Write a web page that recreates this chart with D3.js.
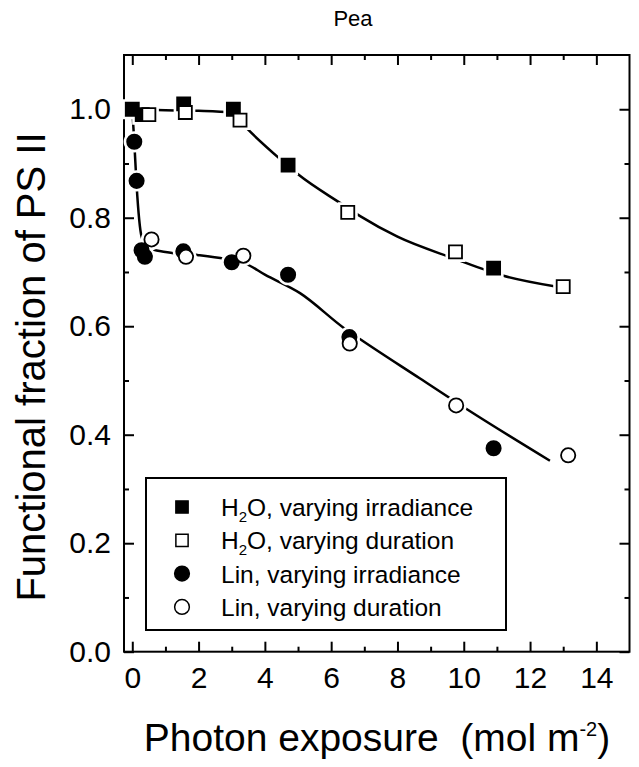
<!DOCTYPE html>
<html>
<head>
<meta charset="utf-8">
<script src="https://cdn.jsdelivr.net/npm/d3@7"></script>
<style>
  body { margin: 0; background: #fff; }
  svg { font-family: "Liberation Sans", Arial, sans-serif; }
</style>
</head>
<body>
<svg id="chart" width="639" height="767"></svg>
<script>
// data: [photon exposure, functional fraction]
var h2oIrradiance = [[0, 1.0], [0.3, 0.99], [1.55, 1.01], [3.05, 1.0], [4.7, 0.897], [10.9, 0.707]];
var h2oDuration = [[0.5, 0.99], [1.6, 0.994], [3.25, 0.98], [6.5, 0.81], [9.75, 0.737], [13.0, 0.673]];
var linIrradiance = [[0.06, 0.94], [0.13, 0.868], [0.28, 0.74], [0.38, 0.728], [1.54, 0.738], [3.0, 0.718], [4.7, 0.695], [6.55, 0.58], [10.9, 0.375]];
var linDuration = [[0.58, 0.76], [1.62, 0.728], [3.35, 0.73], [6.56, 0.568], [9.77, 0.454], [13.15, 0.362]];

// fitted curves as drawn in the figure
var h2oFit = [[0, 1.0], [1, 0.998], [2, 0.997], [3, 0.994], [3.45, 0.965], [4.5, 0.906], [5, 0.88], [6.3, 0.826], [6.9, 0.802], [8, 0.765], [9.7, 0.725], [11.2, 0.693], [12.8, 0.673], [13, 0.671]];
var linFit = [[0, 1.0], [0.06, 0.94], [0.13, 0.86], [0.28, 0.765], [0.45, 0.745], [1.0, 0.737], [2.0, 0.731], [2.8, 0.724], [3.4, 0.716], [4.0, 0.695], [5.06, 0.661], [6.4, 0.596], [6.9, 0.575], [8.67, 0.504], [10.12, 0.446], [12.6, 0.352]];

var xMajor = [0, 2, 4, 6, 8, 10, 12, 14];
var xMinor = [1, 3, 5, 7, 9, 11, 13];
var yMajor = [0, 0.2, 0.4, 0.6, 0.8, 1.0];
var yMinor = [0.1, 0.3, 0.5, 0.7, 0.9];

var legendItems = ["varying irradiance", "varying duration", "varying irradiance", "varying duration"];

(function() {
var svg = d3.select("#chart");
var pL = 124, pR = 629.5, pT = 55, pB = 651.7;

var x = d3.scaleLinear().domain([-0.25, 15]).range([pL, pR]);
var y = d3.scaleLinear().domain([0, 1.1]).range([pB, pT]);

// title
svg.append("text")
  .attr("x", 353).attr("y", 26)
  .attr("text-anchor", "middle")
  .style("font-size", "22px")
  .text("Pea");

// axes with inward ticks
function styleAxis(g) {
  g.select(".domain").remove();
  g.selectAll(".tick line").attr("stroke", "#000").attr("stroke-width", 2);
  g.selectAll("text").style("font-size", "30px").attr("fill", "#000")
    .style("font-family", "'Liberation Sans', Arial, sans-serif");
}

svg.append("g").attr("transform", "translate(0," + pB + ")")
  .call(d3.axisBottom(x).tickValues(xMajor).tickSize(-10).tickPadding(15).tickFormat(d3.format("d")))
  .call(styleAxis);
svg.append("g").attr("transform", "translate(0," + pB + ")")
  .call(d3.axisBottom(x).tickValues(xMinor).tickSize(-5).tickFormat(""))
  .call(styleAxis);
svg.append("g").attr("transform", "translate(0," + pT + ")")
  .call(d3.axisTop(x).tickValues(xMajor).tickSize(-10).tickFormat(""))
  .call(styleAxis);
svg.append("g").attr("transform", "translate(0," + pT + ")")
  .call(d3.axisTop(x).tickValues(xMinor).tickSize(-5).tickFormat(""))
  .call(styleAxis);

svg.append("g").attr("transform", "translate(" + pL + ",0)")
  .call(d3.axisLeft(y).tickValues(yMajor).tickSize(-10).tickPadding(13).tickFormat(d3.format(".1f")))
  .call(styleAxis);
svg.append("g").attr("transform", "translate(" + pL + ",0)")
  .call(d3.axisLeft(y).tickValues(yMinor).tickSize(-5).tickFormat(""))
  .call(styleAxis);
svg.append("g").attr("transform", "translate(" + pR + ",0)")
  .call(d3.axisRight(y).tickValues(yMajor).tickSize(-10).tickFormat(""))
  .call(styleAxis);
svg.append("g").attr("transform", "translate(" + pR + ",0)")
  .call(d3.axisRight(y).tickValues(yMinor).tickSize(-5).tickFormat(""))
  .call(styleAxis);

// frame
svg.append("rect")
  .attr("x", pL).attr("y", pT)
  .attr("width", pR - pL).attr("height", pB - pT)
  .attr("fill", "none").attr("stroke", "#000").attr("stroke-width", 2);

// axis titles
svg.append("text")
  .attr("transform", "translate(45,367) rotate(-90)")
  .attr("text-anchor", "middle")
  .style("font-size", "40px")
  .text("Functional fraction of PS II");

var xt = svg.append("text")
  .attr("x", 377).attr("y", 751)
  .attr("text-anchor", "middle")
  .style("font-size", "39px");
xt.append("tspan").text("Photon exposure\u00a0\u00a0(mol m");
xt.append("tspan").attr("dy", -15).style("font-size", "20px").text("-2");
xt.append("tspan").attr("dy", 15).text(")");

// fit lines
var line = d3.line()
  .x(function(d) { return x(d[0]); })
  .y(function(d) { return y(d[1]); })
  .curve(d3.curveMonotoneX);

[h2oFit, linFit].forEach(function(f) {
  svg.append("path").datum(f)
    .attr("d", line)
    .attr("fill", "none")
    .attr("stroke", "#000")
    .attr("stroke-width", 2.5);
});

// markers
var square = d3.symbol().type(d3.symbolSquare).size(170);
var circle = d3.symbol().type(d3.symbolCircle).size(160);

var series = [
  { data: h2oIrradiance, sym: square, filled: true },
  { data: linIrradiance, sym: circle, filled: true },
  { data: h2oDuration, sym: square, filled: false },
  { data: linDuration, sym: circle, filled: false }
];

// white halo so the line breaks around each marker
series.forEach(function(s) {
  svg.append("g").selectAll("path").data(s.data).enter().append("path")
    .attr("d", s.sym)
    .attr("transform", function(d) { return "translate(" + x(d[0]) + "," + y(d[1]) + ")"; })
    .attr("fill", "#fff").attr("stroke", "#fff").attr("stroke-width", 7);
});
series.forEach(function(s) {
  svg.append("g").selectAll("path").data(s.data).enter().append("path")
    .attr("d", s.sym)
    .attr("transform", function(d) { return "translate(" + x(d[0]) + "," + y(d[1]) + ")"; })
    .attr("fill", s.filled ? "#000" : "#fff")
    .attr("stroke", "#000").attr("stroke-width", 1.8);
});

// legend
var lg = svg.append("g");
lg.append("rect")
  .attr("x", 146).attr("y", 478)
  .attr("width", 360).attr("height", 152)
  .attr("fill", "#fff").attr("stroke", "#000").attr("stroke-width", 2);

var legendSyms = [series[0], series[2], series[1], series[3]];
legendItems.forEach(function(label, i) {
  var cy = 507 + i * 33.3;
  var s = legendSyms[i];
  lg.append("path")
    .attr("d", s.sym === square ? d3.symbol().type(d3.symbolSquare).size(150)() : d3.symbol().type(d3.symbolCircle).size(170)())
    .attr("transform", "translate(182," + cy + ")")
    .attr("fill", s.filled ? "#000" : "#fff")
    .attr("stroke", "#000").attr("stroke-width", 1.5);
  var t = lg.append("text").attr("x", 221).attr("y", cy + 9).style("font-size", "24.5px");
  if (i < 2) {
    t.append("tspan").text("H");
    t.append("tspan").attr("dy", 6).style("font-size", "15px").text("2");
    t.append("tspan").attr("dy", -6).text("O, " + label);
  } else {
    t.append("tspan").text("Lin, " + label);
  }
});
})();
</script>
</body>
</html>
